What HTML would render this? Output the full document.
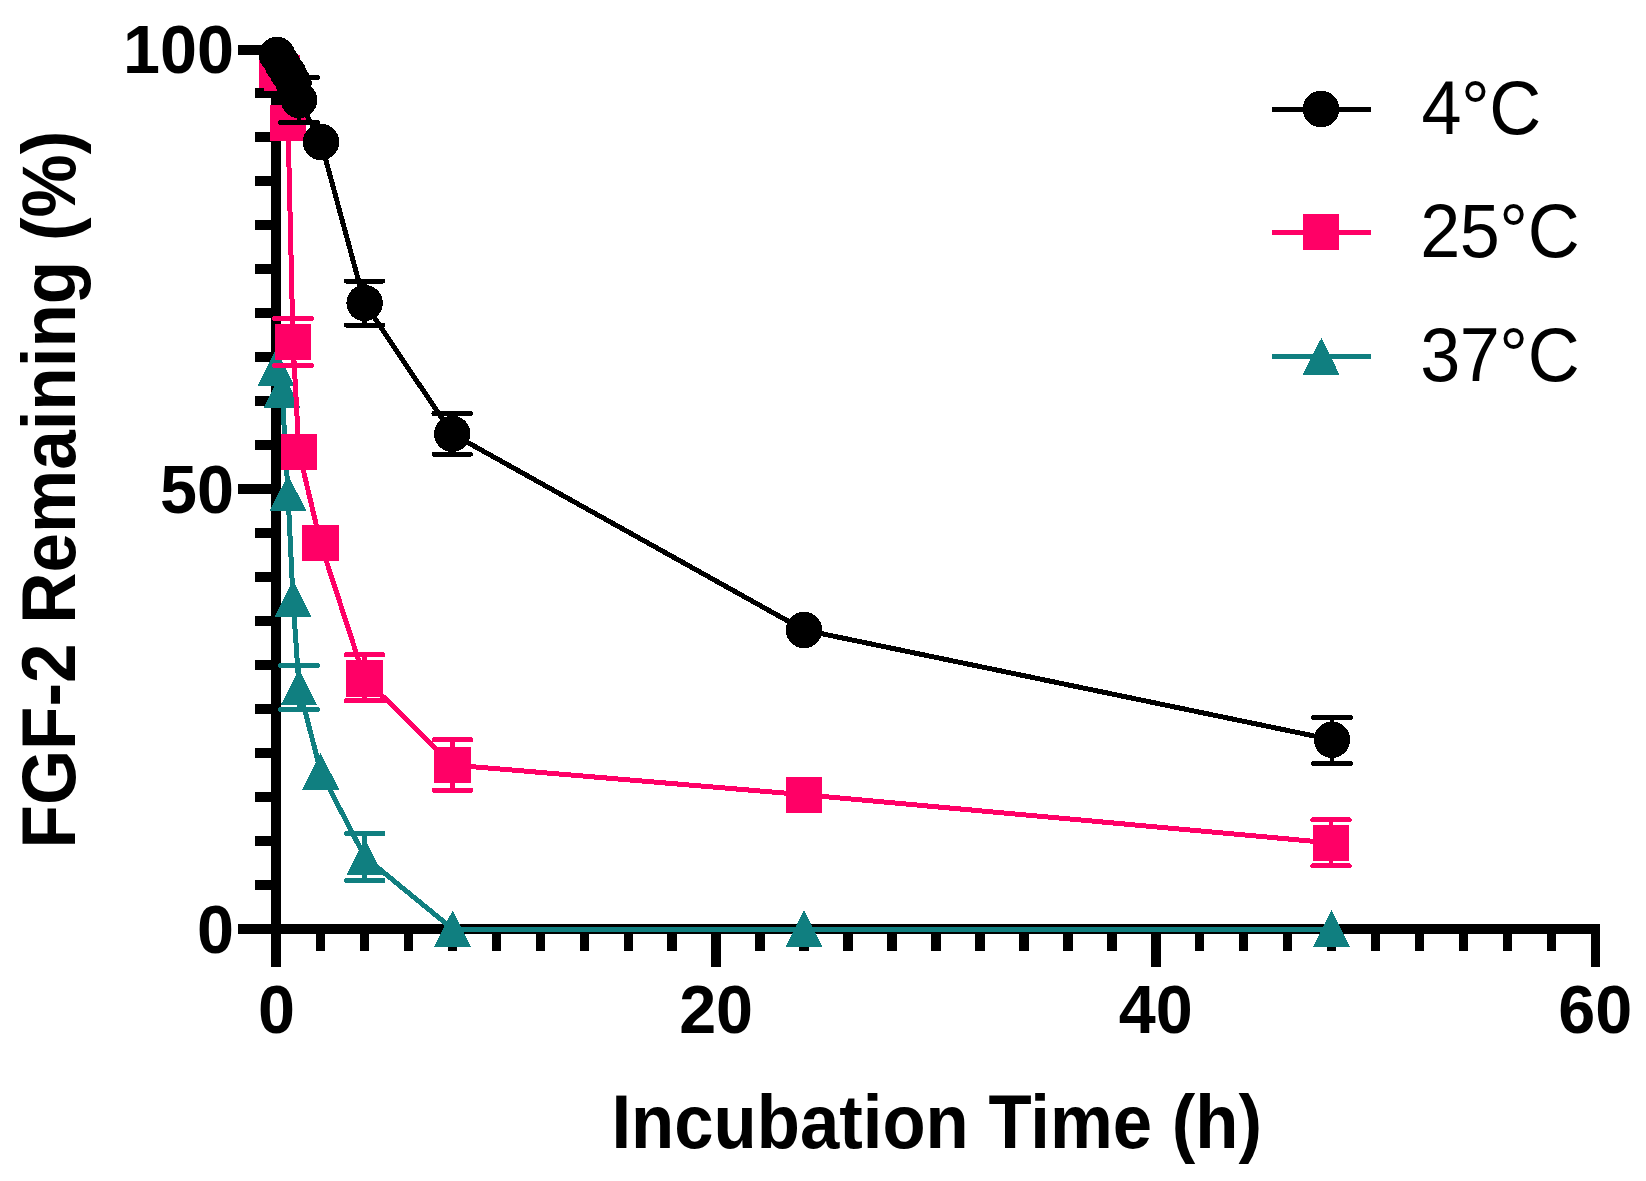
<!DOCTYPE html>
<html lang="en">
<head>
<meta charset="utf-8">
<title>FGF-2 Remaining vs Incubation Time</title>
<style>
html,body{margin:0;padding:0;background:#fff;}
body{width:1646px;height:1181px;overflow:hidden;}
svg{display:block;}
text{font-family:"Liberation Sans",Arial,Helvetica,sans-serif;fill:#000;}
.tk{font-size:66.5px;font-weight:bold;}
.tx{font-size:70.7px;font-weight:bold;}
.ty{font-size:71px;font-weight:bold;}
.lg{font-size:72px;font-weight:normal;letter-spacing:-0.5px;}
</style>
</head>
<body>
<svg width="1646" height="1181" viewBox="0 0 1646 1181" shape-rendering="crispEdges">
<rect width="1646" height="1181" fill="#fff"/>
<g fill="#000">
<rect x="271" y="45" width="10" height="922"/>
<rect x="238" y="924" width="1362" height="10"/>
<rect x="238" y="45" width="43" height="10"/>
<rect x="255" y="88" width="26" height="10"/>
<rect x="255" y="132" width="26" height="10"/>
<rect x="255" y="176" width="26" height="10"/>
<rect x="255" y="220" width="26" height="10"/>
<rect x="255" y="264" width="26" height="10"/>
<rect x="255" y="308" width="26" height="10"/>
<rect x="255" y="352" width="26" height="10"/>
<rect x="255" y="396" width="26" height="10"/>
<rect x="255" y="440" width="26" height="10"/>
<rect x="238" y="484" width="43" height="10"/>
<rect x="255" y="528" width="26" height="10"/>
<rect x="255" y="572" width="26" height="10"/>
<rect x="255" y="616" width="26" height="10"/>
<rect x="255" y="660" width="26" height="10"/>
<rect x="255" y="704" width="26" height="10"/>
<rect x="255" y="748" width="26" height="10"/>
<rect x="255" y="792" width="26" height="10"/>
<rect x="255" y="836" width="26" height="10"/>
<rect x="255" y="880" width="26" height="10"/>
<rect x="238" y="924" width="43" height="10"/>
<rect x="271.82" y="924" width="9.5" height="43"/>
<rect x="315.78" y="924" width="9.5" height="27"/>
<rect x="359.74" y="924" width="9.5" height="27"/>
<rect x="403.70" y="924" width="9.5" height="27"/>
<rect x="447.66" y="924" width="9.5" height="27"/>
<rect x="491.62" y="924" width="9.5" height="27"/>
<rect x="535.58" y="924" width="9.5" height="27"/>
<rect x="579.54" y="924" width="9.5" height="27"/>
<rect x="623.50" y="924" width="9.5" height="27"/>
<rect x="667.46" y="924" width="9.5" height="27"/>
<rect x="711.42" y="924" width="9.5" height="43"/>
<rect x="755.38" y="924" width="9.5" height="27"/>
<rect x="799.34" y="924" width="9.5" height="27"/>
<rect x="843.30" y="924" width="9.5" height="27"/>
<rect x="887.26" y="924" width="9.5" height="27"/>
<rect x="931.22" y="924" width="9.5" height="27"/>
<rect x="975.18" y="924" width="9.5" height="27"/>
<rect x="1019.14" y="924" width="9.5" height="27"/>
<rect x="1063.10" y="924" width="9.5" height="27"/>
<rect x="1107.06" y="924" width="9.5" height="27"/>
<rect x="1151.02" y="924" width="9.5" height="43"/>
<rect x="1194.98" y="924" width="9.5" height="27"/>
<rect x="1238.94" y="924" width="9.5" height="27"/>
<rect x="1282.90" y="924" width="9.5" height="27"/>
<rect x="1326.86" y="924" width="9.5" height="27"/>
<rect x="1370.82" y="924" width="9.5" height="27"/>
<rect x="1414.78" y="924" width="9.5" height="27"/>
<rect x="1458.74" y="924" width="9.5" height="27"/>
<rect x="1502.70" y="924" width="9.5" height="27"/>
<rect x="1546.66" y="924" width="9.5" height="27"/>
<rect x="1590.62" y="924" width="9.5" height="43"/>
</g>
<text class="tk" transform="translate(234.0 73.2) scale(1 1.040)" text-anchor="end">100</text>
<text class="tk" transform="translate(234.0 513.2) scale(1 1.040)" text-anchor="end">50</text>
<text class="tk" transform="translate(234.0 953.2) scale(1 1.040)" text-anchor="end">0</text>
<text class="tk" transform="translate(276.5 1033.2) scale(1 1.040)" text-anchor="middle">0</text>
<text class="tk" transform="translate(716.1 1033.2) scale(1 1.040)" text-anchor="middle">20</text>
<text class="tk" transform="translate(1155.7 1033.2) scale(1 1.040)" text-anchor="middle">40</text>
<text class="tk" transform="translate(1595.3 1033.2) scale(1 1.040)" text-anchor="middle">60</text>
<text class="tx" transform="translate(936.7 1148.0) scale(1 1.065)" text-anchor="middle">Incubation Time (h)</text>
<text class="ty" transform="translate(75.0 489.6) rotate(-90) scale(1 1.065)" text-anchor="middle">FGF-2 Remaining (%)</text>
<g fill="#107F80" stroke="#107F80">
<path d="M276.0 368.0 L282.0 390.0 L288.0 493.3 L293.0 598.9 L299.0 687.5 L320.7 771.7 L364.8 857.0 L452.6 929.0 L804.0 929.0 L1331.5 929.0" fill="none" stroke-width="5" stroke-linejoin="round"/>
<path d="M299.0 665.5V709.5" fill="none" stroke-width="4.8"/><path d="M280.8 665.5h36.4M280.8 709.5h36.4" fill="none" stroke-width="5" stroke-linecap="round"/>
<path d="M364.8 833.5V880.5" fill="none" stroke-width="4.8"/><path d="M346.6 833.5h36.4M346.6 880.5h36.4" fill="none" stroke-width="5" stroke-linecap="round"/>
<path d="M276.0 349.4L294.4 385.8H257.6Z" stroke="none"/>
<path d="M282.0 371.4L300.4 407.8H263.6Z" stroke="none"/>
<path d="M288.0 474.7L306.4 511.1H269.6Z" stroke="none"/>
<path d="M293.0 580.3L311.4 616.7H274.6Z" stroke="none"/>
<path d="M299.0 668.9L317.4 705.3H280.6Z" stroke="none"/>
<path d="M320.7 753.1L339.1 789.5H302.3Z" stroke="none"/>
<path d="M364.8 838.4L383.2 874.8H346.4Z" stroke="none"/>
<path d="M452.6 910.4L471.0 946.8H434.2Z" stroke="none"/>
<path d="M804.0 910.4L822.4 946.8H785.6Z" stroke="none"/>
<path d="M1331.5 910.4L1349.9 946.8H1313.1Z" stroke="none"/>
</g>
<g fill="#FF0066" stroke="#FF0066">
<path d="M277.0 70.0 L282.0 73.0 L288.0 123.0 L293.0 342.0 L299.0 452.0 L320.5 542.9 L364.5 678.3 L452.5 765.0 L804.0 794.7 L1331.0 842.9" fill="none" stroke-width="5" stroke-linejoin="round"/>
<path d="M293.0 318.4V365.6" fill="none" stroke-width="4.8"/><path d="M274.8 318.4h36.4M274.8 365.6h36.4" fill="none" stroke-width="5" stroke-linecap="round"/>
<path d="M364.5 654.6V700.7" fill="none" stroke-width="4.8"/><path d="M346.3 654.6h36.4M346.3 700.7h36.4" fill="none" stroke-width="5" stroke-linecap="round"/>
<path d="M452.5 739.6V790.4" fill="none" stroke-width="4.8"/><path d="M434.3 739.6h36.4M434.3 790.4h36.4" fill="none" stroke-width="5" stroke-linecap="round"/>
<path d="M1331.0 819.9V865.9" fill="none" stroke-width="4.8"/><path d="M1312.8 819.9h36.4M1312.8 865.9h36.4" fill="none" stroke-width="5" stroke-linecap="round"/>
<rect x="258.8" y="51.8" width="36.4" height="36.4" stroke="none"/>
<rect x="263.8" y="54.8" width="36.4" height="36.4" stroke="none"/>
<rect x="269.8" y="104.8" width="36.4" height="36.4" stroke="none"/>
<rect x="274.8" y="323.8" width="36.4" height="36.4" stroke="none"/>
<rect x="280.8" y="433.8" width="36.4" height="36.4" stroke="none"/>
<rect x="302.3" y="524.7" width="36.4" height="36.4" stroke="none"/>
<rect x="346.3" y="660.1" width="36.4" height="36.4" stroke="none"/>
<rect x="434.3" y="746.8" width="36.4" height="36.4" stroke="none"/>
<rect x="785.8" y="776.5" width="36.4" height="36.4" stroke="none"/>
<rect x="1312.8" y="824.7" width="36.4" height="36.4" stroke="none"/>
</g>
<g fill="#000" stroke="#000">
<path d="M277.0 55.0 L282.5 64.0 L288.0 73.0 L293.5 83.0 L299.0 100.0 L321.0 142.0 L364.6 303.0 L452.2 433.8 L804.0 630.0 L1332.0 739.7" fill="none" stroke-width="5" stroke-linejoin="round"/>
<path d="M299.0 77.5V122.5" fill="none" stroke-width="4.8"/><path d="M280.8 77.5h36.4M280.8 122.5h36.4" fill="none" stroke-width="5" stroke-linecap="round"/>
<path d="M364.6 281.0V325.0" fill="none" stroke-width="4.8"/><path d="M346.4 281.0h36.4M346.4 325.0h36.4" fill="none" stroke-width="5" stroke-linecap="round"/>
<path d="M452.2 413.5V454.1" fill="none" stroke-width="4.8"/><path d="M434.0 413.5h36.4M434.0 454.1h36.4" fill="none" stroke-width="5" stroke-linecap="round"/>
<path d="M1332.0 717.4V763.6" fill="none" stroke-width="4.8"/><path d="M1313.8 717.4h36.4M1313.8 763.6h36.4" fill="none" stroke-width="5" stroke-linecap="round"/>
<circle cx="277.0" cy="55.0" r="18.2" stroke="none"/>
<circle cx="282.5" cy="64.0" r="18.2" stroke="none"/>
<circle cx="288.0" cy="73.0" r="18.2" stroke="none"/>
<circle cx="293.5" cy="83.0" r="18.2" stroke="none"/>
<circle cx="299.0" cy="100.0" r="18.2" stroke="none"/>
<circle cx="321.0" cy="142.0" r="18.2" stroke="none"/>
<circle cx="364.6" cy="303.0" r="18.2" stroke="none"/>
<circle cx="452.2" cy="433.8" r="18.2" stroke="none"/>
<circle cx="804.0" cy="630.0" r="18.2" stroke="none"/>
<circle cx="1332.0" cy="739.7" r="18.2" stroke="none"/>
</g>
<g fill="#000" stroke="#000">
<path d="M1272 109.5H1371" stroke-width="5" fill="none"/>
<circle cx="1321.0" cy="109.0" r="18.3" stroke="none"/>
</g>
<text class="lg" transform="translate(1421.5 133.8) scale(1 1.045)">4°C</text>
<g fill="#FF0066" stroke="#FF0066">
<path d="M1272 232.5H1371" stroke-width="5" fill="none"/>
<rect x="1303.0" y="214.0" width="36" height="36" stroke="none"/>
</g>
<text class="lg" transform="translate(1420.3 256.8) scale(1 1.045)">25°C</text>
<g fill="#107F80" stroke="#107F80">
<path d="M1272 356.5H1371" stroke-width="5" fill="none"/>
<path d="M1321.5 337.6L1339.4 374.5H1302.6Z" stroke="none"/>
</g>
<text class="lg" transform="translate(1420.3 381.4) scale(1 1.045)">37°C</text>
</svg>
</body>
</html>
